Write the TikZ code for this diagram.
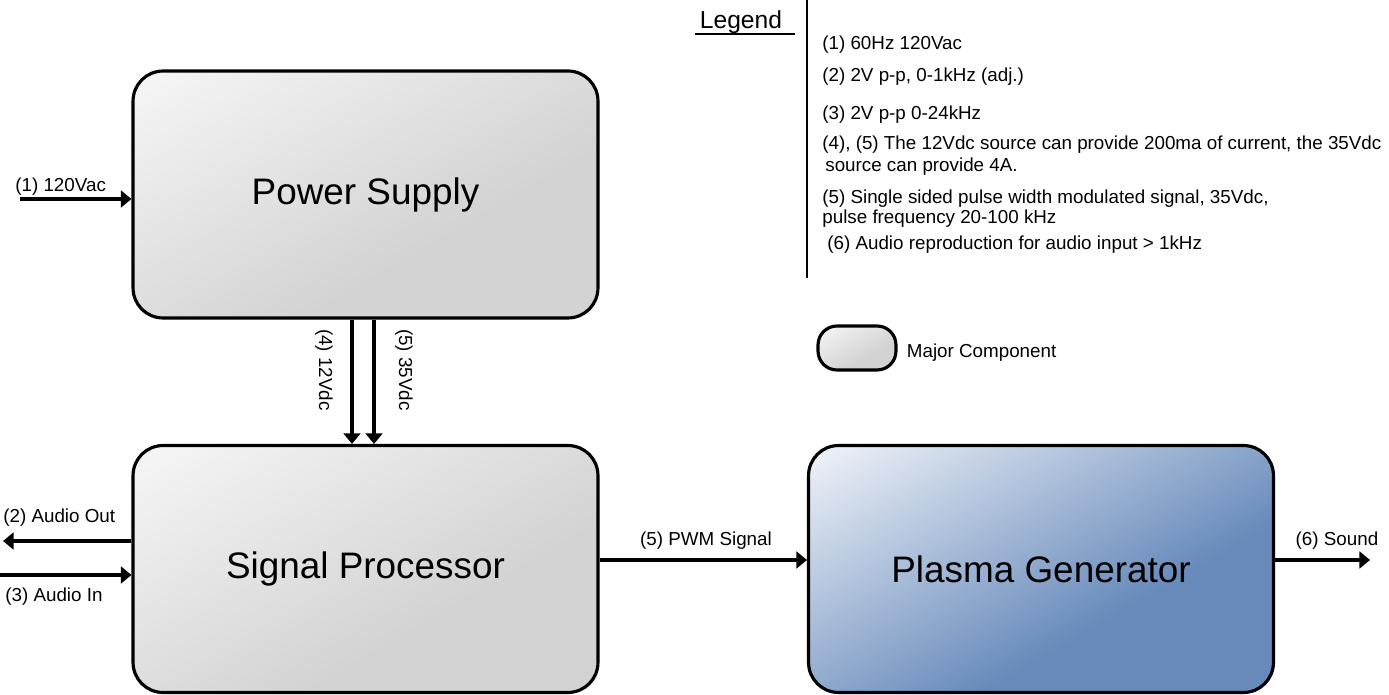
\documentclass[tikz,border=0pt]{standalone}
\usepackage{fontspec}
\setmainfont{Liberation Sans}
\usetikzlibrary{calc,arrows.meta,positioning}
\definecolor{grayA}{HTML}{F7F7F7}
\definecolor{grayB}{HTML}{D3D3D3}
\definecolor{blueA}{HTML}{F4F6FA}
\definecolor{blueC}{HTML}{678ABB}
\pgfdeclareverticalshading{blockshade}{100bp}{color(0bp)=(grayB); color(38bp)=(grayB);
  color(85bp)=(grayA); color(100bp)=(grayA)}
\pgfdeclareverticalshading{plasmashade}{100bp}{color(0bp)=(blueC); color(38bp)=(blueC);
  color(85bp)=(blueA); color(100bp)=(blueA)}
\tikzset{
  block/.style={draw, line width=1.8pt, rounded corners=0.6cm, inner sep=0pt,
    minimum width=9.3cm, minimum height=4.94cm, font=\fontsize{21}{25}\selectfont},
  grayblock/.style={block, shade, shading=blockshade, shading angle=30},
  blueblock/.style={block, shade, shading=plasmashade, shading angle=30},
  sig/.style={line width=1.9pt, -{Triangle[length=6pt,width=9.5pt]}},
  lbl/.style={font=\fontsize{10.7}{13}\selectfont, inner sep=0pt},
}
\begin{document}
\begin{tikzpicture}[x=0.02cm, y=-0.02cm]
      \useasboundingbox (0,0) rectangle (1389,695);
      % major components
      \node [grayblock] (power) at (365.5,194.5) {Power Supply};
      \node [grayblock] (sigproc) at (365.5,569) {Signal Processor};
      \node [blueblock] (plasma) at (1041,569) {Plasma Generator};
      % free ends
      \coordinate (acin) at (20,199);
      \coordinate (aout) at (3,541);
      \coordinate (ain) at (0,575);
      \coordinate (sndout) at (1370,560);
      % signals
      \draw [sig] (acin) -- (acin -| power.west);
      \draw [sig] (aout -| sigproc.west) -- (aout);
      \draw [sig] (ain) -- (ain -| sigproc.west);
      \draw [sig] ($(power.south)+(-13.5,0)$) -- ($(sigproc.north)+(-13.5,0)$);
      \draw [sig] ($(power.south)+(8.5,0)$) -- ($(sigproc.north)+(8.5,0)$);
      \draw [sig] ($(sigproc.east)+(0,-9)$) -- ($(plasma.west)+(0,-9)$);
      \draw [sig] ($(plasma.east)+(0,-9)$) -- (sndout);
      \node [lbl, anchor=west] (lacin) at (15,187) {(1) 120Vac};
      \node [lbl, anchor=west] (laout) at (3,518) {(2) Audio Out};
      \node [lbl, anchor=west] (lain) at (5,597) {(3) Audio In};
      \node [lbl, rotate=-90] (l12) at (324,370) {(4) 12Vdc};
      \node [lbl, rotate=-90] (l35) at (404,370) {(5) 35Vdc};
      \node [lbl] (lpwm) at (706,541) {(5) PWM Signal};
      \node [lbl] (lsnd) at (1337,541) {(6) Sound};
      % legend
      \node [lbl, font=\fontsize{14}{16}\selectfont, anchor=base] (legtitle) at (741,29) {Legend};
      \draw [line width=1.2pt] (695,34) coordinate (ulA) -- (795,34) coordinate (ulB);
      \draw [line width=1.2pt] (807,0) coordinate (vtop) -- (807,278) coordinate (vbot);
      \node [lbl, anchor=west] (leg1) at (822,45) {(1) 60Hz 120Vac};
      \node [lbl, anchor=west] (leg2) at (822,77) {(2) 2V p-p, 0-1kHz (adj.)};
      \node [lbl, anchor=west] (leg3) at (822,115) {(3) 2V p-p 0-24kHz};
      \node [lbl, anchor=west] (leg4) at (822,145) {(4), (5) The 12Vdc source can provide 200ma of current, the 35Vdc};
      \node [lbl, anchor=west] (leg4b) at (825,167) {source can provide 4A.};
      \node [lbl, anchor=west] (leg5) at (822,199) {(5) Single sided pulse width modulated signal, 35Vdc,};
      \node [lbl, anchor=west] (leg5b) at (822,219) {pulse frequency 20-100 kHz};
      \node [lbl, anchor=west] (leg6) at (827,245) {(6) Audio reproduction for audio input > 1kHz};
      \node [draw, line width=1.8pt, rounded corners=0.38cm, minimum width=1.56cm, minimum height=0.88cm,
        shade, shading=blockshade, shading angle=30] (legbox) at (857,348) {};
      \node [lbl, right=0.18cm of legbox, yshift=-0.1cm] (legboxtxt) {Major Component};
\end{tikzpicture}
\end{document}
